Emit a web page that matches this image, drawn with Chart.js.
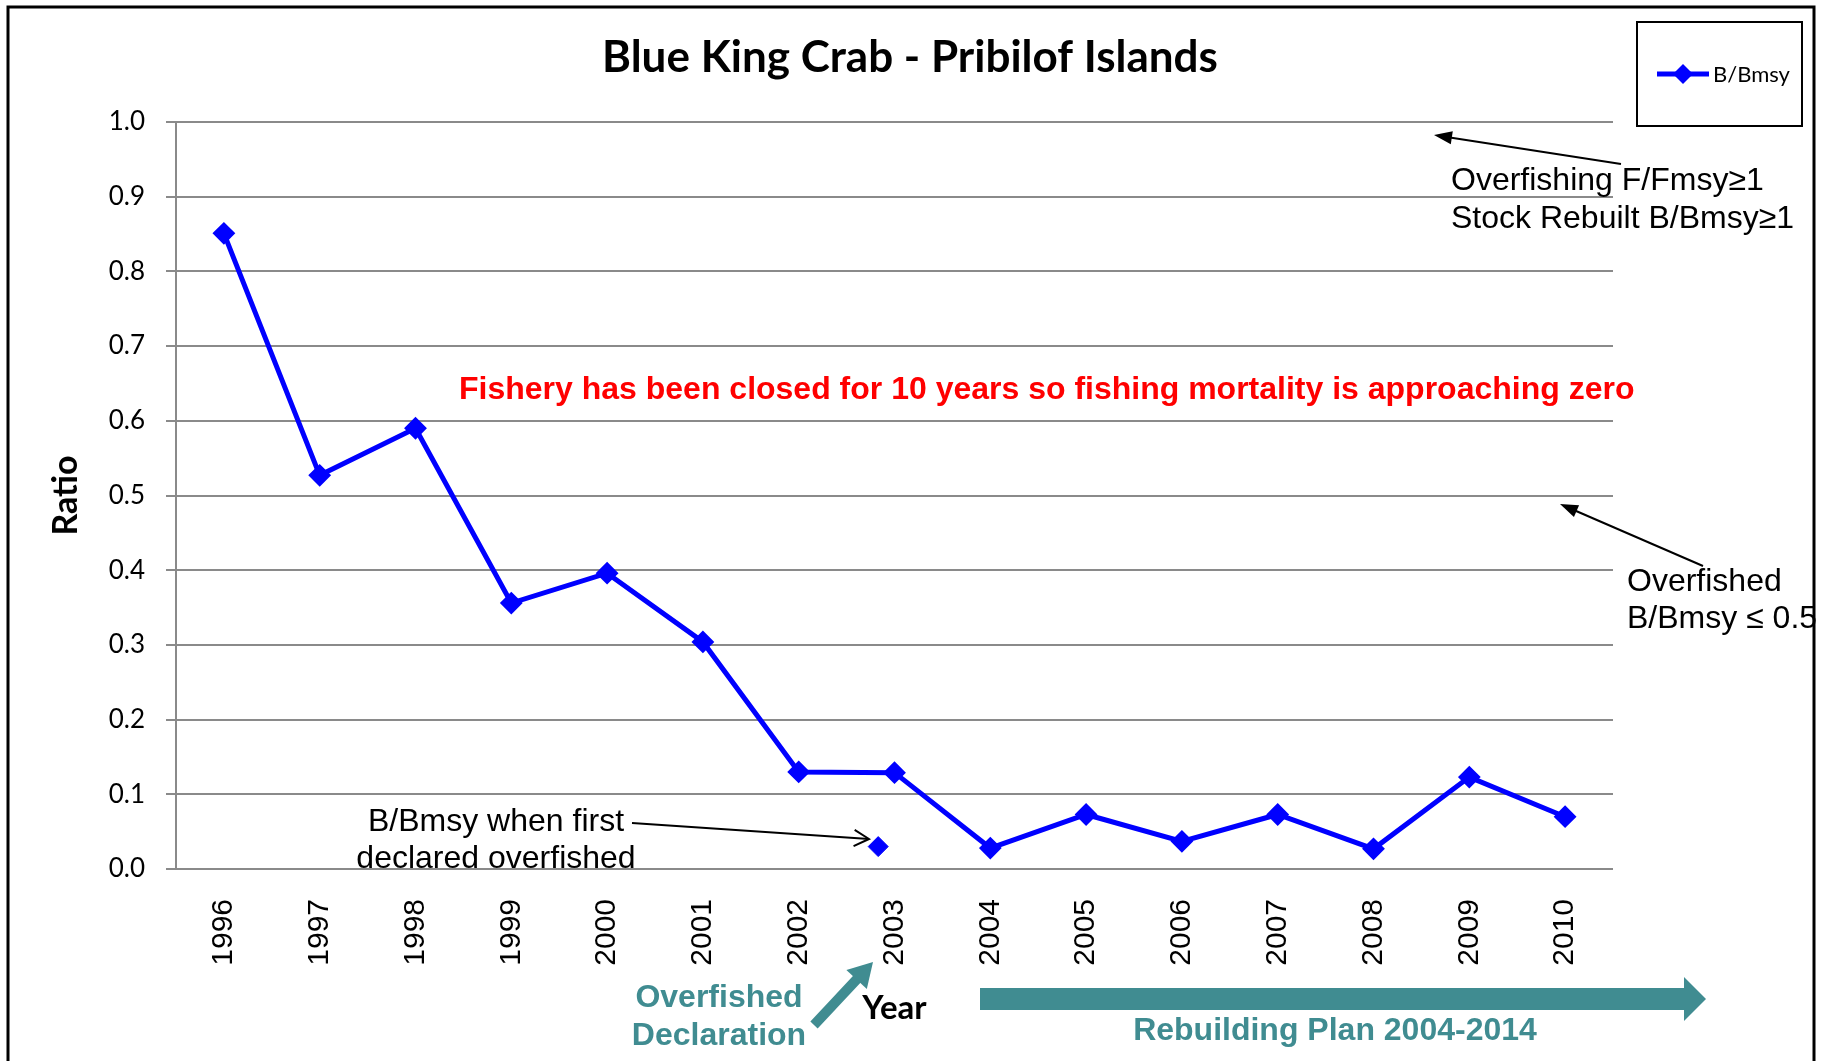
<!DOCTYPE html>
<html><head><meta charset="utf-8">
<script src="https://cdn.jsdelivr.net/npm/chart.js@4.4.0/dist/chart.umd.min.js"></script>
<style>html,body{margin:0;padding:0;background:#fff;overflow:hidden}canvas{display:block}</style>
</head><body>
<canvas id="c" width="1835" height="1061"></canvas>
<script>
// ---- data ----
const years = ['1996','1997','1998','1999','2000','2001','2002','2003','2004','2005','2006','2007','2008','2009','2010'];
const ratio = [0.851,0.527,0.590,0.356,0.396,0.304,0.130,0.129,0.028,0.073,0.037,0.073,0.027,0.123,0.070];
const firstDeclaredX = [6.83];   // position on the year axis (index units), between 2002 and 2003
const firstDeclaredY = [0.030];
const seriesName = 'B/Bmsy';
const chartTitle = 'Blue King Crab - Pribilof Islands';
const yAxisTitle = 'Ratio';
const xAxisTitle = 'Year';
const yMin = 0, yMax = 1, yStep = 0.1;
const redNote = 'Fishery has been closed for 10 years so fishing mortality is approaching zero';
const noteTop = ['Overfishing F/Fmsy\u22651', 'Stock Rebuilt B/Bmsy\u22651'];
const noteRight = ['Overfished', 'B/Bmsy \u2264 0.5'];
const noteFirst = ['B/Bmsy when first', 'declared overfished'];
const noteDecl = ['Overfished', 'Declaration'];
const noteRebuild = 'Rebuilding Plan 2004-2014';

const BLUE = '#0000FF', GRID = '#8a8a8a', TEAL = '#408C91';
const ARIAL = '"Liberation Sans", Arial, sans-serif';
const CAL = 'Lato, "Open Sans", sans-serif';

function arrowFilled(ctx, x1, y1, x2, y2, len, wid, lw, color) {
  const a = Math.atan2(y2 - y1, x2 - x1);
  ctx.save();
  ctx.strokeStyle = color; ctx.fillStyle = color; ctx.lineWidth = lw;
  ctx.beginPath(); ctx.moveTo(x1, y1);
  ctx.lineTo(x2 - Math.cos(a) * len * 0.8, y2 - Math.sin(a) * len * 0.8); ctx.stroke();
  ctx.beginPath(); ctx.moveTo(x2, y2);
  ctx.lineTo(x2 - Math.cos(a) * len - Math.sin(a) * wid / 2, y2 - Math.sin(a) * len + Math.cos(a) * wid / 2);
  ctx.lineTo(x2 - Math.cos(a) * len + Math.sin(a) * wid / 2, y2 - Math.sin(a) * len - Math.cos(a) * wid / 2);
  ctx.closePath(); ctx.fill();
  ctx.restore();
}
function arrowOpen(ctx, x1, y1, x2, y2, len, lw, color) {
  const a = Math.atan2(y2 - y1, x2 - x1);
  ctx.save();
  ctx.strokeStyle = color; ctx.lineWidth = lw;
  ctx.beginPath(); ctx.moveTo(x1, y1); ctx.lineTo(x2, y2); ctx.stroke();
  ctx.beginPath();
  ctx.moveTo(x2 - Math.cos(a - 0.5) * len, y2 - Math.sin(a - 0.5) * len);
  ctx.lineTo(x2, y2);
  ctx.lineTo(x2 - Math.cos(a + 0.5) * len, y2 - Math.sin(a + 0.5) * len);
  ctx.stroke();
  ctx.restore();
}

const decor = {
  id: 'decor',
  afterDraw(chart) {
    const ctx = chart.ctx;
    ctx.save();
    // title
    ctx.fillStyle = '#000';
    ctx.font = 'bold 44px ' + CAL;
    ctx.textAlign = 'center'; ctx.textBaseline = 'middle';
    ctx.fillText(chartTitle, 910, 58);

    // legend box
    ctx.lineWidth = 2; ctx.strokeStyle = '#000';
    ctx.strokeRect(1637, 22, 165, 104);
    ctx.strokeStyle = BLUE; ctx.lineWidth = 5;
    ctx.beginPath(); ctx.moveTo(1657, 74); ctx.lineTo(1709, 74); ctx.stroke();
    ctx.fillStyle = BLUE;
    ctx.beginPath(); ctx.moveTo(1683, 64); ctx.lineTo(1693, 74); ctx.lineTo(1683, 84); ctx.lineTo(1673, 74); ctx.closePath(); ctx.fill();
    ctx.fillStyle = '#000'; ctx.font = '22px ' + CAL; ctx.textAlign = 'left';
    ctx.fillText(chart.data.datasets[0].label, 1713, 75);

    // red note
    ctx.fillStyle = '#FF0000'; ctx.font = 'bold 32px ' + ARIAL; ctx.textAlign = 'left';
    ctx.fillText(redNote, 459, 390);

    // annotations
    ctx.fillStyle = '#000'; ctx.font = '32px ' + ARIAL;
    ctx.fillText(noteTop[0], 1451, 181);
    ctx.fillText(noteTop[1], 1451, 219);
    ctx.fillText(noteRight[0], 1627, 582);
    ctx.fillText(noteRight[1], 1627, 619);
    ctx.textAlign = 'center';
    ctx.fillText(noteFirst[0], 496, 822);
    ctx.fillText(noteFirst[1], 496, 859);
    arrowFilled(ctx, 1621, 164, 1434, 135, 18, 13, 2, '#000');
    arrowFilled(ctx, 1703, 566, 1560, 504, 18, 13, 2, '#000');
    arrowOpen(ctx, 632, 823, 869, 839, 17, 2, '#000');

    // teal declaration text + arrow
    ctx.fillStyle = TEAL; ctx.font = 'bold 32px ' + ARIAL; ctx.textAlign = 'center';
    ctx.fillText(noteDecl[0], 719, 998);
    ctx.fillText(noteDecl[1], 719, 1036);
    arrowFilled(ctx, 814, 1025, 873, 962, 24, 28, 10, TEAL);

    // rebuilding plan arrow
    ctx.fillStyle = TEAL;
    ctx.beginPath();
    ctx.moveTo(980, 988); ctx.lineTo(1684, 988); ctx.lineTo(1684, 977); ctx.lineTo(1706, 999);
    ctx.lineTo(1684, 1021); ctx.lineTo(1684, 1010); ctx.lineTo(980, 1010); ctx.closePath(); ctx.fill();
    ctx.font = 'bold 32px ' + ARIAL;
    ctx.fillText(noteRebuild, 1335, 1031);

    // outer frame
    ctx.strokeStyle = '#000'; ctx.lineWidth = 3;
    ctx.strokeRect(8, 7, 1806, 1070);
    ctx.restore();
  }
};

new Chart(document.getElementById('c'), {
  type: 'line',
  data: {
    labels: years,
    datasets: [{
      label: seriesName,
      data: ratio,
      borderColor: BLUE, backgroundColor: BLUE,
      borderWidth: 5,
      pointStyle: 'rectRot', pointRadius: 10, pointBorderWidth: 2,
      pointBackgroundColor: BLUE, pointBorderColor: BLUE,
      tension: 0, fill: false
    }, {
      label: 'first declared',
      data: firstDeclaredX.map((x, i) => ({x: x, y: firstDeclaredY[i]})),
      xAxisID: 'x2',
      showLine: false,
      borderColor: BLUE, backgroundColor: BLUE,
      pointStyle: 'rectRot', pointRadius: 10, pointBorderWidth: 1,
      pointBackgroundColor: BLUE, pointBorderColor: BLUE
    }]
  },
  options: {
    responsive: false, animation: false, devicePixelRatio: 1,
    layout: { padding: { left: 42, right: 222, top: 122, bottom: 0 } },
    plugins: { legend: { display: false }, title: { display: false }, tooltip: { enabled: false } },
    scales: {
      x: {
        type: 'category', offset: true,
        grid: { display: false, drawTicks: false },
        border: { display: false },
        ticks: { autoSkip: false, minRotation: 90, maxRotation: 90, padding: 30, color: '#000',
                 font: { family: ARIAL, size: 30 } },
        title: { display: true, text: xAxisTitle, color: '#000',
                 font: { family: CAL, size: 33, weight: 'bold' }, padding: { top: 0, bottom: 33 } },
        afterFit: s => { s.height = 192; }
      },
      x2: { type: 'linear', position: 'top', display: false, min: -0.5, max: years.length - 0.5 },
      y: {
        min: yMin, max: yMax,
        ticks: { stepSize: yStep, padding: 21, color: '#000', font: { family: CAL, size: 26 },
                 callback: v => Number(v).toFixed(1) },
        grid: { color: GRID, lineWidth: 2, tickLength: 10, drawTicks: true },
        border: { display: true, color: GRID, width: 2 },
        title: { display: true, text: yAxisTitle, color: '#000',
                 font: { family: CAL, size: 34, weight: 'bold' }, padding: { top: 4, bottom: 4 } },
        afterFit: s => { s.width = 134; }
      }
    }
  },
  plugins: [decor]
});
</script>
</body></html>
